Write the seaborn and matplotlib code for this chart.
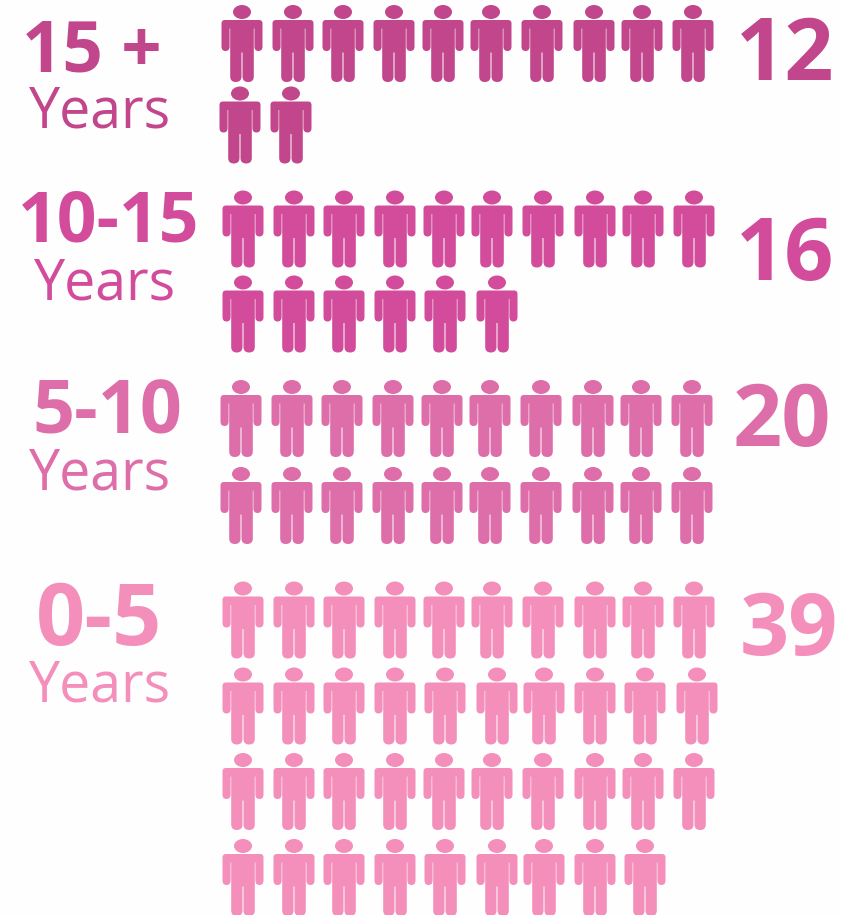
"""
Pictogram of staff counts by years of service.
One person marker per member of staff, drawn with seaborn scatterplot.
"""

import matplotlib
matplotlib.use("Agg")
import matplotlib.pyplot as plt
import pandas as pd
import seaborn as sns
from matplotlib.path import Path

# Chart values
BANDS = ["15 +", "10-15", "5-10", "0-5"]
COUNTS = [12, 16, 20, 39]
UNIT_LABEL = "Years"
PER_ROW = 10

# Colours
BAND_COLORS = ["#C2468C", "#D24C9B", "#DE6EA9", "#F48FBB"]
BACKGROUND = "#FEFEFE"

# Layout, in reference pixels
BASE_COLUMNS = [242, 293, 343, 394, 443, 491, 542, 594, 642, 693]
ALT_COLUMNS = [242, 293, 343, 394, 444, 496, 543, 594, 644, 696]
ROW_CENTERS = {
    "15 +": [43.5, 125],
    "10-15": [229, 314],
    "5-10": [418.5, 505.5],
    "0-5": [620, 706, 791.5, 877.5],
}
ROW_COLUMNS = {
    "15 +": [(BASE_COLUMNS, 0), (BASE_COLUMNS, -2)],
    "10-15": [(BASE_COLUMNS, 1), (ALT_COLUMNS, 1)],
    "5-10": [(BASE_COLUMNS, -1), (BASE_COLUMNS, -1)],
    "0-5": [(BASE_COLUMNS, 1), (ALT_COLUMNS, 1), (BASE_COLUMNS, 1), (ALT_COLUMNS, 1)],
}
BAND_TEXT = {
    "15 +": (92, 71, 51),
    "10-15": (109, 241, 50),
    "5-10": (107, 433, 53),
    "0-5": (99, 645, 62),
}
YEARS_TEXT = {
    "15 +": (100, 127),
    "10-15": (105, 299),
    "5-10": (100, 490),
    "0-5": (100, 701),
}
COUNT_TEXT = {
    "15 +": (785, 80),
    "10-15": (785, 280),
    "5-10": (782, 446),
    "0-5": (789, 655),
}
PERSON_SIZE_PT = 77 * 72 / 100


def person_marker() -> Path:
    """
    Builds the person glyph, in pixels around its centre with y pointing up.
    """
    k = 0.5523
    cx, cy, rx, ry = 0, 31.5, 9, 7
    head = [
        (cx + rx, cy),
        (cx + rx, cy + k * ry), (cx + k * rx, cy + ry), (cx, cy + ry),
        (cx - k * rx, cy + ry), (cx - rx, cy + k * ry), (cx - rx, cy),
        (cx - rx, cy - k * ry), (cx - k * rx, cy - ry), (cx, cy - ry),
        (cx + k * rx, cy - ry), (cx + rx, cy - k * ry), (cx + rx, cy),
        (cx + rx, cy),
    ]
    head_codes = [Path.MOVETO] + [Path.CURVE4] * 12 + [Path.CLOSEPOLY]

    # right half of the outline, from the neck down to the crotch
    right = [
        (Path.LINETO, (17, 23.5)),
        (Path.CURVE3, (20.5, 23.5)), (Path.CURVE3, (20.5, 20)),
        (Path.LINETO, (20.5, -3)),
        (Path.CURVE3, (20.5, -7.5)), (Path.CURVE3, (16.5, -7.5)),
        (Path.CURVE3, (12.4, -7.5)), (Path.CURVE3, (12.4, -3)),
        (Path.LINETO, (12.4, 15)),
        (Path.LINETO, (11.8, 15)),
        (Path.LINETO, (11.8, -33)),
        (Path.CURVE3, (11.8, -38.5)), (Path.CURVE3, (6.2, -38.5)),
        (Path.CURVE3, (0.5, -38.5)), (Path.CURVE3, (0.5, -33)),
        (Path.LINETO, (0.5, -9)),
    ]
    left = []
    for i in range(len(right) - 2, -1, -1):
        code = right[i + 1][0]
        x, y = right[i][1]
        left.append((code, (-x, y)))

    body = [(Path.MOVETO, (0, 23.5))] + right + [(Path.LINETO, (-0.5, -9))] + left
    body += [(Path.LINETO, (0, 23.5)), (Path.CLOSEPOLY, (0, 23.5))]
    verts = head + [v for _, v in body]
    codes = head_codes + [c for c, _ in body]
    return Path(verts, codes)


def build_people() -> pd.DataFrame:
    """
    Expands the counts to one row per person, wrapped at PER_ROW a line.
    """
    rows = []
    for band, count in zip(BANDS, COUNTS):
        for i in range(count):
            row, col = divmod(i, PER_ROW)
            columns, shift = ROW_COLUMNS[band][row]
            rows.append({"band": band, "x": columns[col] + shift, "y": ROW_CENTERS[band][row]})
    return pd.DataFrame(rows)


def main():
    sns.set_theme(style="white")
    plt.rcParams["font.family"] = ["Open Sans", "DejaVu Sans"]

    fig = plt.figure(figsize=(8.41, 9.15), dpi=100, facecolor=BACKGROUND)
    ax = fig.add_axes([0, 0, 1, 1])

    sns.scatterplot(
        data=build_people(),
        x="x",
        y="y",
        hue="band",
        hue_order=BANDS,
        palette=BAND_COLORS,
        marker=person_marker(),
        s=PERSON_SIZE_PT ** 2,
        linewidth=0,
        legend=False,
        clip_on=False,
        ax=ax,
    )
    ax.set_xlim(0, 841)
    ax.set_ylim(915, 0)
    ax.axis("off")

    for band, count, color in zip(BANDS, COUNTS, BAND_COLORS):
        x, y, size = BAND_TEXT[band]
        ax.text(x, y, band, color=color, fontsize=size, fontweight="bold", ha="center", va="baseline")
        x, y = YEARS_TEXT[band]
        ax.text(x, y, UNIT_LABEL, color=color, fontsize=40, ha="center", va="baseline")
        x, y = COUNT_TEXT[band]
        ax.text(x, y, str(count), color=color, fontsize=62, fontweight="bold", ha="center", va="baseline")

    fig.savefig("out.png", dpi=100, facecolor=BACKGROUND)
    plt.close(fig)


if __name__ == "__main__":
    main()
